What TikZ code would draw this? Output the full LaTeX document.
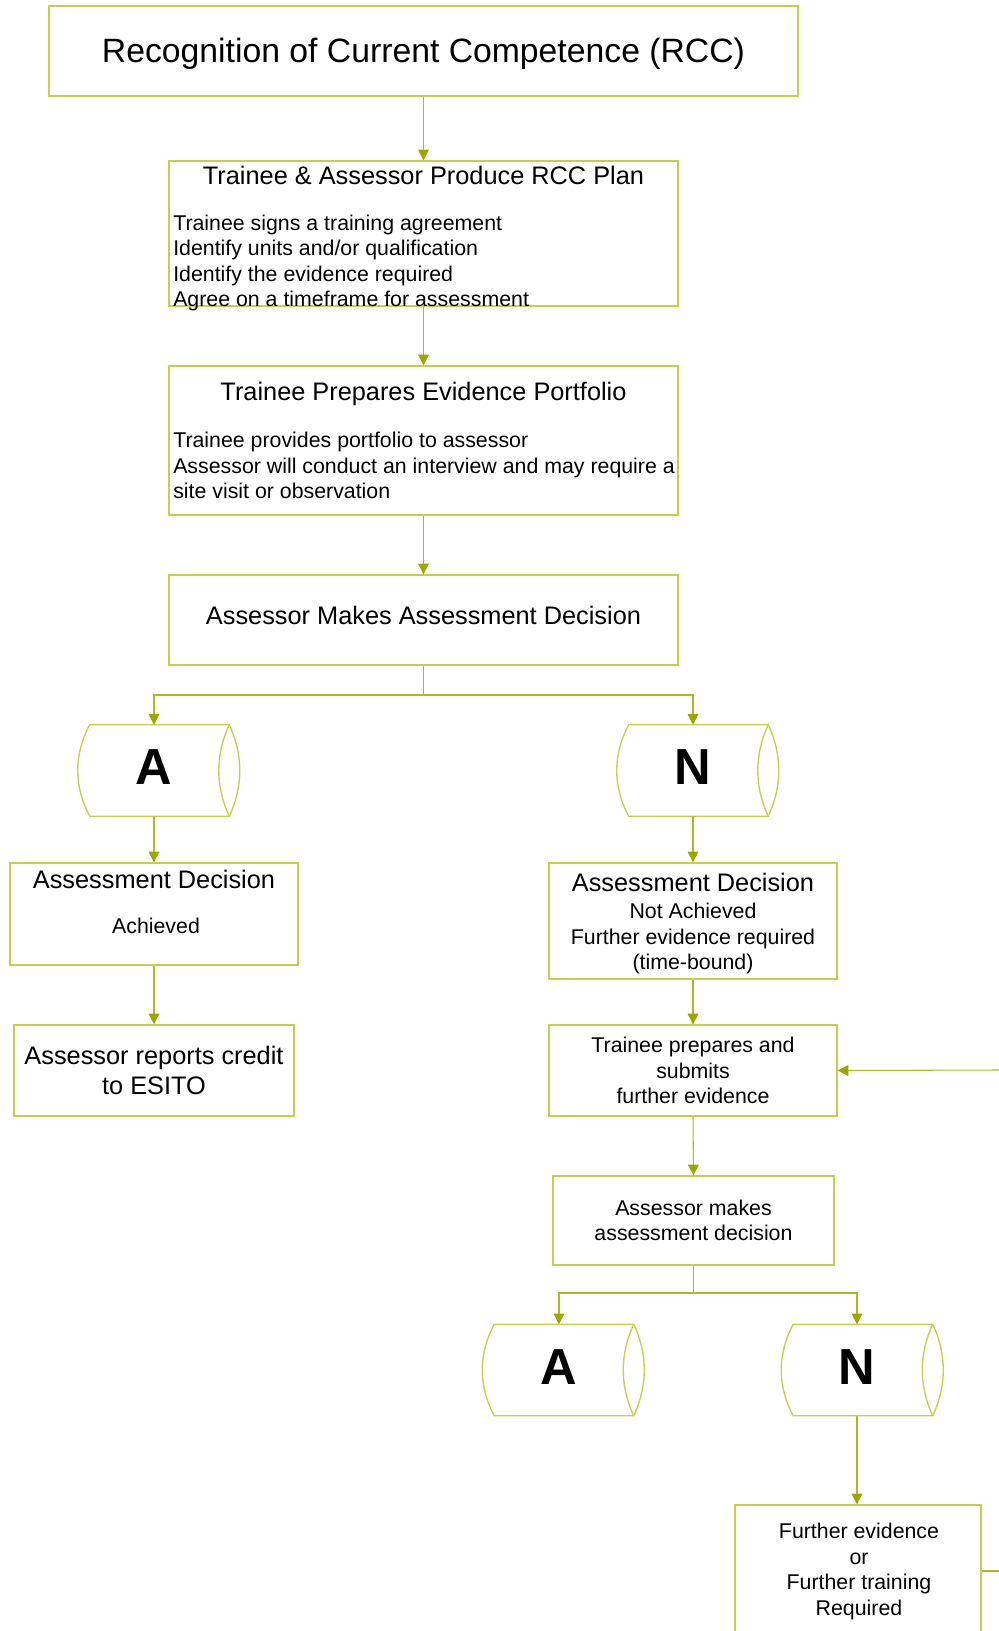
\documentclass[tikz,border=0pt]{standalone}
\usepackage{fontspec}
\setmainfont{Liberation Sans}
\usetikzlibrary{arrows.meta}
\definecolor{boxline}{HTML}{C4CF52}
\definecolor{flowline}{HTML}{AAB92E}
\definecolor{tipfill}{HTML}{99A800}

\begin{document}
\begin{tikzpicture}[x=0.75pt,y=-0.75pt,
  box/.style={draw=boxline,line width=1pt,fill=white,inner sep=0pt},
  sz/.style 2 args={minimum width=#1*0.75pt,minimum height=#2*0.75pt},
  drum/.style={rectangle,inner sep=0pt,sz={161}{91}},
  drumline/.style={draw=boxline,line width=1pt,fill=white},
  letter/.style={font=\fontsize{38}{40}\selectfont\bfseries,inner sep=0pt},
  link/.style={draw=flowline,line width=0.8pt},
  flow/.style={link,-{Triangle[length=8pt,width=8pt,color=tipfill]}},
  title/.style={font=\fontsize{25.3}{30}\selectfont,inner sep=0pt},
  head/.style={font=\fontsize{19}{22.5}\selectfont,align=center,inner sep=0pt},
  body/.style={font=\fontsize{16}{19.2}\selectfont,align=left,inner sep=0pt}]
  % RCC flow: plan, portfolio, decision, then the two outcome branches
  \useasboundingbox (0,0) rectangle (999,1631);
  \clip (0,0) rectangle (999,1631);
  \fill[white] (0,0) rectangle (999,1631);

  \node[box,sz={749}{90}] (rcc) at (423.5,51) {};
  \node[title] (rcctext) at (423.5,53.4) {Recognition of Current Competence (RCC)};
  \node[box,sz={509}{145}] (plan) at (423.5,233.5) {};
  \node[head] (planhead) at (423.5,175) {Trainee \& Assessor Produce RCC Plan};
  \node[body,anchor=west] (planlist) at (173,263) {Trainee signs a training agreement\\Identify units and/or qualification\\Identify the evidence required\\Agree on a timeframe for assessment};
  \node[box,sz={509}{149}] (port) at (423.5,440.5) {};
  \node[head] (porthead) at (423.5,394) {Trainee Prepares Evidence Portfolio};
  \node[body,anchor=west] (portlist) at (173,465.5) {Trainee provides portfolio to assessor\\Assessor will conduct an interview and may require a\\site visit or observation};
  \node[box,sz={509}{90}] (dec) at (423.5,620) {};
  \node[head] (dectext) at (423.5,615) {Assessor Makes Assessment Decision};

  \draw[flow] (rcc.south) -- (plan.north);
  \draw[flow] (plan.south) -- (port.north);
  \draw[flow] (port.south) -- (dec.north);

  % drums: placed as plain nodes, outlines drawn below
  \node[drum] (a1) at (159.5,770.5) {};
  \node[drum] (n1) at (698.5,770.5) {};
  \node[drum] (a2) at (564,1370) {};
  \node[drum] (n2) at (863,1370) {};
  \foreach \d in {a1,n1,a2,n2}{
    \draw[drumline] ([xshift=11*0.75pt]\d.north west) -- ([xshift=-11*0.75pt]\d.north east)
      .. controls +(14,30) and +(14,-30) .. ([xshift=-11*0.75pt]\d.south east)
      -- ([xshift=11*0.75pt]\d.south west)
      .. controls +(-16,-30) and +(-16,30) .. ([xshift=11*0.75pt]\d.north west) -- cycle;
    \draw[drumline] ([xshift=-11*0.75pt]\d.north east)
      .. controls +(-14,30) and +(-14,-30) .. ([xshift=-11*0.75pt]\d.south east);
  }
  \node[letter] (a1l) at (154,767) {A};
  \node[letter] (n1l) at (693,767) {N};
  \node[letter] (a2l) at (559,1367) {A};
  \node[letter] (n2l) at (857,1367) {N};

  % achieved / not achieved
  \coordinate (fork1) at (423.5,695);
  \draw[link] (dec.south) -- (fork1);
  \draw[flow] (fork1) -| (a1l |- a1.north);
  \draw[flow] (fork1) -| (n1l |- n1.north);

  \node[box,sz={288}{102}] (ach) at (154,914) {};
  \node[head] (achhead) at (154,879) {Assessment Decision};
  \node[body] (achtext) at (156,926) {Achieved};
  \node[box,sz={280}{91},head] (cred) at (154,1070.5) {Assessor reports credit\\to ESITO};
  \draw[flow] (ach.north |- a1.south) -- (ach.north);
  \draw[flow] (ach.south) -- (cred.north);

  \node[box,sz={288}{116}] (nach) at (693,921) {};
  \node[head] (nachhead) at (693,882) {Assessment Decision};
  \node[body,align=center] (nachtext) at (693,938.5) {Not Achieved\\Further evidence required\\(time-bound)};
  \node[box,sz={288}{91},body,align=center] (subm) at (693,1070.5) {Trainee prepares and\\submits\\further evidence};
  \node[box,sz={281}{89},body,align=center] (dec2) at (693.5,1220.5) {Assessor makes\\assessment decision};
  \draw[flow] (nach.north |- n1.south) -- (nach.north);
  \draw[flow] (nach.south) -- (subm.north);
  \draw[flow] (subm.south) -- (dec2.north);

  % second decision
  \coordinate (fork2) at (693.5,1293);
  \draw[link] (dec2.south) -- (fork2);
  \draw[flow] (fork2) -| (a2l |- a2.north);
  \draw[flow] (fork2) -| (n2l |- n2.north);

  \node[box,sz={246}{175}] (furth) at (858,1592.5) {};
  \node[body,align=center] (furthtext) at (859,1571.5) {Further evidence\\or\\Further training\\Required};
  \draw[flow] (n2l |- n2.south) -- (n2l |- furth.north);

  % loop back for more evidence
  \coordinate (back) at (999,1070);
  \coordinate (loop) at (999,1571);
  \draw[flow] (back) -- (subm.east);
  \draw[link] (furth.east |- loop) -- (loop);
\end{tikzpicture}
\end{document}
